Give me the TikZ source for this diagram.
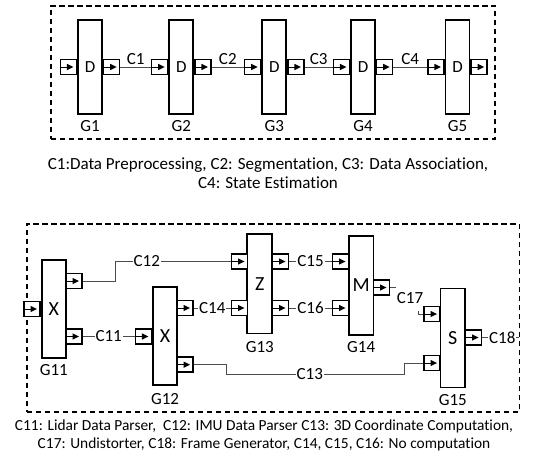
\documentclass[tikz,border=0pt]{standalone}
\usepackage{fontspec}
\setmainfont{Carlito}[Ligatures=NoCommon]
\usetikzlibrary{calc}
\pgfdeclarelayer{bg}
\pgfsetlayers{bg,main}
\tikzset{
  blk/.style={draw, line width=1.7pt, minimum width=24pt, inner sep=0pt, font=\fontsize{20}{22}\selectfont},
  blkd/.style={blk, font=\fontsize{17}{19}\selectfont},
  port/.style={draw, line width=1.6pt, minimum width=16pt, minimum height=15pt, inner sep=0pt, fill=white,
    path picture={
      \draw[black, line width=0.6pt] (path picture bounding box.west) -- (path picture bounding box.center);
      \fill[black] ($(path picture bounding box.center)+(-1.5pt,3.2pt)$) -- ++(6.5pt,-3.2pt) -- ++(-6.5pt,-3.2pt) -- cycle;
    }},
  conn/.style={draw=black!70, line width=0.7pt},
  lbl/.style={font=\fontsize{17}{19}\selectfont, inner sep=0pt},
  inl/.style={lbl, fill=white, inner xsep=1pt, inner ysep=1pt},
  dashbox/.style={draw, line width=1.5pt, dash pattern=on 5.5pt off 3.5pt},
  captxt/.style={font=\fontsize{17}{19}\selectfont, align=center, inner sep=0pt},
  captxtb/.style={captxt, font=\fontsize{15.4}{18}\selectfont},
}
\begin{document}
\begin{tikzpicture}[x=1pt,y=-1pt]
\useasboundingbox (0,0) rectangle (537,458);
% ---------- top pipeline ----------
\node[dashbox, minimum width=444.3pt, minimum height=133.3pt, anchor=north west] (top) at (50,5) {};
\foreach \n/\x in {1/90,2/181.3,3/274.3,4/363,5/457.5}{
  \node[blkd, minimum height=94pt] (g\n) at (\x,67) {D};
  \node[port, anchor=east] (g\n i) at (g\n.west) {};
  \node[port, anchor=west] (g\n o) at (g\n.east) {};
  \node[lbl, anchor=base] (gl\n) at ([yshift=-17pt]g\n.south) {G\n};
}
\begin{pgfonlayer}{bg}
\draw[conn] (g1o) -- node[lbl, anchor=base, yshift=3pt] {C1} (g2i);
\draw[conn] (g2o) -- node[lbl, anchor=base, yshift=3pt] {C2} (g3i);
\draw[conn] (g3o) -- node[lbl, anchor=base, yshift=3pt] {C3} (g4i);
\draw[conn] (g4o) -- node[lbl, anchor=base, yshift=3pt] {C4} (g5i);
\end{pgfonlayer}
\node[captxt] (cap1) at (268,173) {C1:Data Preprocessing, C2: Segmentation, C3: Data Association,\\ C4: State Estimation};
% ---------- bottom pipeline ----------
\node[dashbox, minimum width=492.5pt, minimum height=188pt, anchor=north west] (bot) at (26,223) {};
\node[blk, minimum width=24.3pt, minimum height=98pt] (g11) at (53.8,309) {X};
\node[port, anchor=east] (g11i) at (g11.west) {};
\node[port] (g11a) at (74,281) {};
\node[port] (g11b) at (74,336.5) {};
\node[lbl, anchor=base] (gl11) at ([yshift=-17pt]g11.south) {G11};

\node[blk, minimum height=98.5pt] (g12) at (165,336) {X};
\node[port, anchor=east] (g12i) at (g12.west |- g11b) {};
\node[port] (g12a) at (185,308) {};
\node[port] (g12b) at (185,364.7) {};
\node[lbl, anchor=base] (gl12) at ([yshift=-18.5pt]g12.south) {G12};

\node[blk, minimum width=25pt, minimum height=99.3pt] (g13) at (259.8,283.7) {Z};
\node[port] (g13i1) at (239.5,261.5) {};
\node[port] (g13i2) at (239.5,308) {};
\node[port] (g13o1) at (280.5,261.5) {};
\node[port] (g13o2) at (280.5,308) {};
\node[lbl, anchor=base] (gl13) at ([yshift=-18.5pt]g13.south) {G13};

\node[blk, minimum width=24.3pt, minimum height=99pt] (g14) at (361.2,285.5) {M};
\node[port] (g14i1) at (340.5,261.5) {};
\node[port] (g14i2) at (340.5,308) {};
\node[port] (g14o) at (381.5,287.5) {};
\node[lbl, anchor=base] (gl14) at ([yshift=-17pt]g14.south) {G14};

\node[blk, minimum width=24.5pt, minimum height=99pt] (g15) at (452.8,338) {S};
\node[port] (g15i1) at (432,314) {};
\node[port] (g15i2) at (432,363) {};
\node[port] (g15o) at (473.5,337.5) {};
\node[lbl, anchor=base] (gl15) at ([yshift=-17pt]g15.south) {G15};

\coordinate (b18) at (518.5,337.5);

\begin{pgfonlayer}{bg}
\draw[conn] (g11b) -- node[inl] {C11} (g12i);
\draw[conn] (g11a.east) -- ++(33,0) |- node[inl, pos=0.635] {C12} (g13i1.west);
\draw[conn] (g12a) -- node[inl] {C14} (g13i2);
\draw[conn] (g12b.east) -- ++(32.5,0) -- ++(0,9.3) -- node[inl, pos=0.47] {C13} ++(177.6,0) |- (g15i2.west);
\draw[conn] (g13o1) -- node[inl] {C15} (g14i1);
\draw[conn] (g13o2) -- node[inl] {C16} (g14i2);
\draw[conn] (g14o.east) -- ++(28.5,0) |- (g15i1.west);
\node[lbl, fill=white, inner xsep=0.5pt, inner ysep=7pt] (c17) at (410,298.5) {C17};
\draw[conn] (g15o) -- node[inl, pos=0.55] {C18} (b18);
\end{pgfonlayer}

\node[captxtb] (cap2) at (264,435.5) {C11: Lidar Data Parser,~ C12: IMU Data Parser C13: 3D Coordinate Computation,\\ C17: Undistorter, C18: Frame Generator, C14, C15, C16: No computation};
\end{tikzpicture}
\end{document}
